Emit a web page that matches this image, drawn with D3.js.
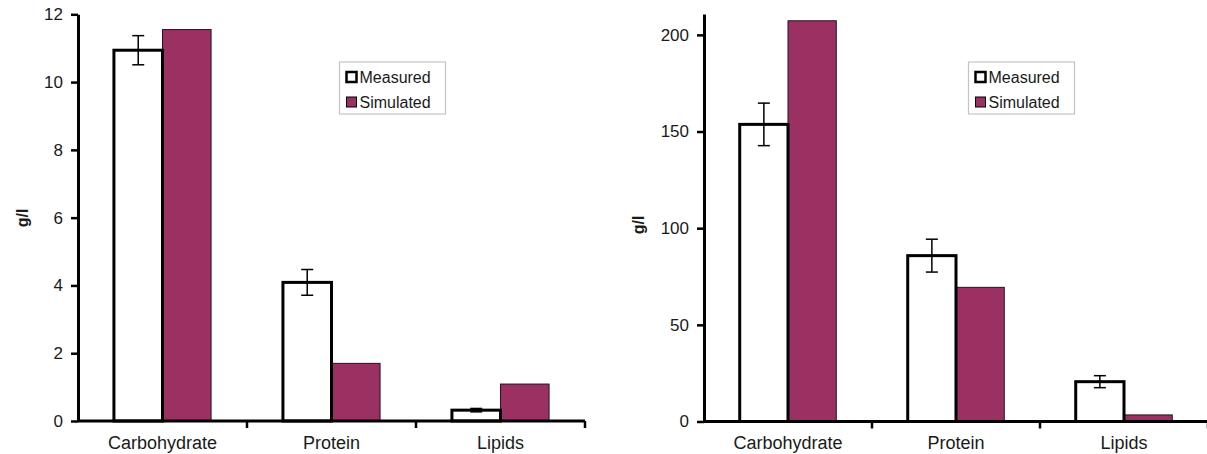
<!DOCTYPE html>
<html>
<head>
<meta charset="utf-8">
<script src="https://cdn.jsdelivr.net/npm/d3@7"></script>
<style>
  body { margin: 0; background: #fff; }
  svg { display: block; }
  text { font-family: "Liberation Sans", Arial, sans-serif; fill: #1a1a1a; }
</style>
</head>
<body>
<script>
var width = 1207;
var height = 454;

// data
var categories = ["Carbohydrate", "Protein", "Lipids"];
var seriesNames = ["Measured", "Simulated"];

var leftMeasured = [10.94, 4.09, 0.32];
var leftMeasuredErr = [0.43, 0.38, 0.05];
var leftSimulated = [11.55, 1.70, 1.09];
var leftTicks = [0, 2, 4, 6, 8, 10, 12];

var rightMeasured = [153.7, 85.8, 20.6];
var rightMeasuredErr = [11.0, 8.5, 3.1];
var rightSimulated = [207.3, 69.4, 3.4];
var rightTicks = [0, 50, 100, 150, 200];

var purple = "#9b3062";

var svg = d3.select("body")
    .append("svg")
    .attr("width", width)
    .attr("height", height);

function drawPanel(opt) {
    var g = svg.append("g");

    var x = d3.scaleBand()
        .domain(categories)
        .range(opt.xRange)
        .padding(0);

    var inner = d3.scaleBand()
        .domain(seriesNames)
        .range([0, x.bandwidth()])
        .paddingInner(0)
        .paddingOuter(0.74);

    var y = d3.scaleLinear()
        .domain(opt.yDomain)
        .range(opt.yRange);

    var rows = categories.map(function(c, i) {
        return { cat: c, measured: opt.measured[i], err: opt.err[i], simulated: opt.simulated[i] };
    });

    // simulated bars
    g.selectAll("rect.sim")
        .data(rows)
        .enter()
        .append("rect")
        .attr("class", "sim")
        .attr("x", function(d) { return x(d.cat) + inner("Simulated"); })
        .attr("y", function(d) { return y(d.simulated); })
        .attr("width", inner.bandwidth())
        .attr("height", function(d) { return y(0) - y(d.simulated); })
        .attr("fill", purple)
        .attr("stroke", "#2a1020")
        .attr("stroke-width", 1);

    // measured bars
    g.selectAll("rect.meas")
        .data(rows)
        .enter()
        .append("rect")
        .attr("class", "meas")
        .attr("x", function(d) { return x(d.cat) + inner("Measured"); })
        .attr("y", function(d) { return y(d.measured); })
        .attr("width", inner.bandwidth())
        .attr("height", function(d) { return y(0) - y(d.measured); })
        .attr("fill", "#fff")
        .attr("stroke", "#000")
        .attr("stroke-width", 3);

    // error bars
    var eb = g.selectAll("g.err")
        .data(rows)
        .enter()
        .append("g")
        .attr("class", "err")
        .attr("transform", function(d) {
            return "translate(" + (x(d.cat) + inner("Measured") + inner.bandwidth() / 2) + ",0)";
        });
    eb.append("line")
        .attr("y1", function(d) { return y(d.measured + d.err); })
        .attr("y2", function(d) { return y(d.measured - d.err); })
        .attr("stroke", "#000").attr("stroke-width", 1.5);
    eb.append("line")
        .attr("x1", -6).attr("x2", 6)
        .attr("y1", function(d) { return y(d.measured + d.err); })
        .attr("y2", function(d) { return y(d.measured + d.err); })
        .attr("stroke", "#000").attr("stroke-width", 1.5);
    eb.append("line")
        .attr("x1", -6).attr("x2", 6)
        .attr("y1", function(d) { return y(d.measured - d.err); })
        .attr("y2", function(d) { return y(d.measured - d.err); })
        .attr("stroke", "#000").attr("stroke-width", 1.5);

    // y axis
    var yAxis = g.append("g")
        .attr("transform", "translate(" + opt.xRange[0] + ",0)")
        .call(d3.axisLeft(y).tickValues(opt.ticks).tickSize(7).tickSizeOuter(0).tickPadding(8));
    yAxis.select(".domain").attr("stroke", "#000").attr("stroke-width", 3);
    yAxis.selectAll(".tick line").attr("stroke", "#000").attr("stroke-width", 2.5);
    yAxis.selectAll(".tick text")
        .style("font-family", "'Liberation Sans', Arial, sans-serif")
        .style("font-size", "17px")
        .attr("fill", "#222");

    // x axis: labels at centres, ticks at band edges
    var xAxis = g.append("g")
        .attr("transform", "translate(0," + y(0) + ")")
        .call(d3.axisBottom(x).tickSize(0).tickPadding(15));
    xAxis.select(".domain").remove();
    xAxis.selectAll(".tick text")
        .style("font-family", "'Liberation Sans', Arial, sans-serif")
        .style("font-size", "18px")
        .attr("fill", "#222");

    g.append("line")
        .attr("x1", opt.xRange[0]).attr("x2", opt.xRange[1])
        .attr("y1", y(0)).attr("y2", y(0))
        .attr("stroke", "#000").attr("stroke-width", 3);

    var edges = categories.map(function(c) { return x(c); }).concat([x.range()[1]]);
    g.selectAll("line.xtick")
        .data(edges.slice(1))
        .enter()
        .append("line")
        .attr("class", "xtick")
        .attr("x1", function(d) { return d; }).attr("x2", function(d) { return d; })
        .attr("y1", y(0)).attr("y2", y(0) + 7)
        .attr("stroke", "#000").attr("stroke-width", 2.5);

    // y title
    g.append("text")
        .attr("transform", "translate(" + opt.titleX + "," + opt.titleY + ") rotate(-90)")
        .attr("text-anchor", "middle")
        .attr("dy", "0.35em")
        .style("font-size", "16px")
        .style("font-weight", "bold")
        .text("g/l");

    // legend
    var lg = g.append("g").attr("transform", "translate(" + opt.legend[0] + "," + opt.legend[1] + ")");
    lg.append("rect")
        .attr("width", 106).attr("height", 52)
        .attr("fill", "#fff")
        .attr("stroke", "#c4c4c4").attr("stroke-width", 1.2);
    seriesNames.forEach(function(s, i) {
        var row = lg.append("g").attr("transform", "translate(7," + (15 + i * 25) + ")");
        row.append("rect")
            .attr("x", 0).attr("y", -5)
            .attr("width", 10).attr("height", 10)
            .attr("fill", s === "Measured" ? "#fff" : purple)
            .attr("stroke", "#000")
            .attr("stroke-width", s === "Measured" ? 2.5 : 1);
        row.append("text")
            .attr("x", 13)
            .attr("dy", "0.36em")
            .style("font-size", "16px")
            .attr("fill", "#222")
            .text(s);
    });
}

drawPanel({
    xRange: [78, 585],
    yDomain: [0, 12],
    yRange: [421, 14.3],
    ticks: leftTicks,
    measured: leftMeasured,
    err: leftMeasuredErr,
    simulated: leftSimulated,
    titleX: 22,
    titleY: 218,
    legend: [339.5, 62]
});

drawPanel({
    xRange: [704, 1208],
    yDomain: [0, 210.8],
    yRange: [421.5, 14],
    ticks: rightTicks,
    measured: rightMeasured,
    err: rightMeasuredErr,
    simulated: rightSimulated,
    titleX: 638,
    titleY: 225,
    legend: [968.5, 62]
});
</script>
</body>
</html>
